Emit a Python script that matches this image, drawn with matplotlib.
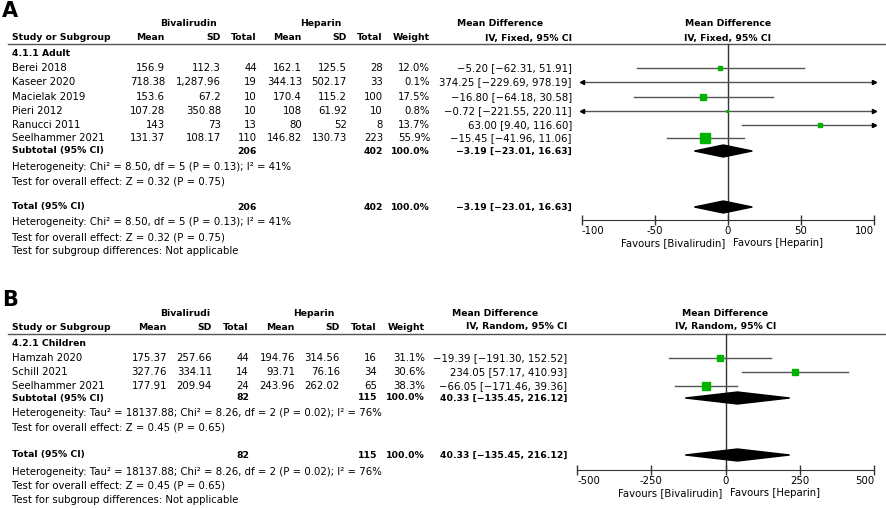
import matplotlib.pyplot as plt
from matplotlib.patches import Polygon

plt.rcParams['font.family'] = ['DejaVu Sans']
FS = 7.3
FS_B = 6.7

# ---- Panel A: adults, fixed effect ----
a_studies = ["Berei 2018", "Kaseer 2020", "Macielak 2019", "Pieri 2012",
             "Ranucci 2011", "Seelhammer 2021"]
a_biv_mean = [156.9, 718.38, 153.6, 107.28, 143, 131.37]
a_biv_sd = [112.3, 1287.96, 67.2, 350.88, 73, 108.17]
a_biv_n = [44, 19, 10, 10, 13, 110]
a_hep_mean = [162.1, 344.13, 170.4, 108, 80, 146.82]
a_hep_sd = [125.5, 502.17, 115.2, 61.92, 52, 130.73]
a_hep_n = [28, 33, 100, 10, 8, 223]
a_weight = [12.0, 0.1, 17.5, 0.8, 13.7, 55.9]
a_md = [-5.20, 374.25, -16.80, -0.72, 63.00, -15.45]
a_lo = [-62.31, -229.69, -64.18, -221.55, 9.40, -41.96]
a_hi = [51.91, 978.19, 30.58, 220.11, 116.60, 11.06]
a_total = [206, 402, -3.19, -23.01, 16.63]
a_ticks = [-100, -50, 0, 50, 100]
a_notes = ["Heterogeneity: Chi² = 8.50, df = 5 (P = 0.13); I² = 41%",
           "Test for overall effect: Z = 0.32 (P = 0.75)"]

# ---- Panel B: children, random effects ----
b_studies = ["Hamzah 2020", "Schill 2021", "Seelhammer 2021"]
b_biv_mean = [175.37, 327.76, 177.91]
b_biv_sd = [257.66, 334.11, 209.94]
b_biv_n = [44, 14, 24]
b_hep_mean = [194.76, 93.71, 243.96]
b_hep_sd = [314.56, 76.16, 262.02]
b_hep_n = [16, 34, 65]
b_weight = [31.1, 30.6, 38.3]
b_md = [-19.39, 234.05, -66.05]
b_lo = [-191.30, 57.17, -171.46]
b_hi = [152.52, 410.93, 39.36]
b_total = [82, 115, 40.33, -135.45, 216.12]
b_ticks = [-500, -250, 0, 250, 500]
b_notes = ["Heterogeneity: Tau² = 18137.88; Chi² = 8.26, df = 2 (P = 0.02); I² = 76%",
           "Test for overall effect: Z = 0.45 (P = 0.65)"]

GREEN = '#00b400'
LINE = '#555555'
DARK = '#333333'

fig = plt.figure(figsize=(8.86, 5.08), dpi=100)
bg = fig.add_axes([0, 0, 1, 1])
bg.set_xlim(0, 886)
bg.set_ylim(508, 0)
bg.axis('off')


def t(x, y, s, ha='left', bold=False, size=None):
    if size is None:
        size = FS_B if bold else FS
    bg.text(x, y, s, ha=ha, va='center', fontsize=size,
            fontweight='bold' if bold else 'normal')


def num(v):
    return f"{v:,}"


def ci(m, lo, hi):
    return f"{m:.2f} [{lo:.2f}, {hi:.2f}]".replace('-', '\u2212')


def panel(letter, top, cols, grp_name, biv_label, method, rows_y, sub_y,
          notes_y, tot_y, tot_notes_y, forest_box,
          studies, bm, bs, bn, hm, hs, hn, w, md, lo, hi, total, ticks, notes):
    c = cols
    t(2, top - 13, letter, bold=True, size=15)
    t((c[0] + c[1]) / 2 - 4, top, biv_label, ha='center', bold=True)
    t((c[3] + c[4]) / 2 - 4, top, "Heparin", ha='center', bold=True)
    t(c[7] - 115, top, "Mean Difference", bold=True)
    fx0, fy0, fx1, fy1 = forest_box
    xmin, xmax = ticks[0], ticks[-1]
    x_zero = fx0 + (fx1 - fx0) * (0 - xmin) / (xmax - xmin)
    t(x_zero, top, "Mean Difference", ha='center', bold=True)
    h2 = top + 14
    t(12, h2, "Study or Subgroup", bold=True)
    for x, s in zip(c[:7], ["Mean", "SD", "Total", "Mean", "SD", "Total", "Weight"]):
        t(x, h2, s, ha='right', bold=True)
    t(c[7], h2, f"IV, {method}, 95% CI", ha='right', bold=True)
    t(x_zero, h2, f"IV, {method}, 95% CI", ha='center', bold=True)
    bg.plot([8, 886], [fy0, fy0], color=LINE, lw=1.0)
    t(12, fy0 + 9, grp_name, bold=True)

    for i, y in enumerate(rows_y):
        t(12, y, studies[i])
        vals = [num(bm[i]), num(bs[i]), num(bn[i]), num(hm[i]), num(hs[i]),
                num(hn[i]), f"{w[i]:.1f}%"]
        for x, s in zip(c[:7], vals):
            t(x, y, s, ha='right')
        t(c[7], y, ci(md[i], lo[i], hi[i]), ha='right')

    for y, lab in [(sub_y, "Subtotal (95% CI)"), (tot_y, "Total (95% CI)")]:
        t(12, y, lab, bold=True)
        t(c[2], y, num(total[0]), ha='right', bold=True)
        t(c[5], y, num(total[1]), ha='right', bold=True)
        t(c[6], y, "100.0%", ha='right', bold=True)
        t(c[7], y, ci(total[2], total[3], total[4]), ha='right', bold=True)
    for y, s in zip(notes_y, notes):
        t(12, y, s)
    for y, s in zip(tot_notes_y, notes + ["Test for subgroup differences: Not applicable"]):
        t(12, y, s)

    # forest plot axes in mean-difference units
    ax = fig.add_axes([fx0 / 886, 1 - fy1 / 508, (fx1 - fx0) / 886, (fy1 - fy0) / 508])
    ax.patch.set_alpha(0)
    ax.set_xlim(xmin, xmax)
    ax.set_ylim(fy1, fy0)
    for s in ['top', 'left', 'right']:
        ax.spines[s].set_visible(False)
    ax.spines['bottom'].set_color(DARK)
    ax.set_yticks([])
    ax.set_xticks(ticks)
    labels = ax.set_xticklabels([str(v) for v in ticks], fontsize=FS)
    labels[0].set_ha('left')
    labels[-1].set_ha('right')
    ax.tick_params(axis='x', direction='inout', length=7, width=1, color=DARK, pad=1)
    ax.axvline(0, color=DARK, lw=1.0, clip_on=False)

    for i, y in enumerate(rows_y):
        a, b = max(lo[i], xmin), min(hi[i], xmax)
        ax.plot([a, b], [y, y], color=LINE, lw=1.0, clip_on=False, zorder=2)
        if lo[i] < xmin:
            ax.plot(xmin, y, marker='<', ms=3, color='black', clip_on=False)
        if hi[i] > xmax:
            ax.plot(xmax, y, marker='>', ms=3, color='black', clip_on=False)
        if xmin <= md[i] <= xmax:
            ax.plot(md[i], y, marker='s', ms=max(0.9 * w[i] ** 0.5, 1.2),
                    color=GREEN, mec=GREEN, zorder=3, clip_on=False)

    for y in (sub_y, tot_y):
        ax.add_patch(Polygon([(total[3], y), (total[2], y - 6), (total[4], y),
                              (total[2], y + 6)], closed=True,
                             facecolor='black', edgecolor='black', zorder=3,
                             clip_on=False))

    fav_y = fy1 + 23
    t(x_zero - 3, fav_y, "Favours [Bivalirudin]", ha='right')
    t(x_zero + 5, fav_y, "Favours [Heparin]")


panel("A", 24, [165, 221, 257, 302, 347, 383, 430, 572], "4.1.1 Adult",
      "Bivalirudin", "Fixed", [68, 82, 97, 111, 125, 138], 151, [167, 182],
      207, [222, 237, 251], (582, 44, 874, 220),
      a_studies, a_biv_mean, a_biv_sd, a_biv_n, a_hep_mean, a_hep_sd, a_hep_n,
      a_weight, a_md, a_lo, a_hi, a_total, a_ticks, a_notes)

panel("B", 313, [167, 212, 249, 295, 340, 377, 425, 567], "4.2.1 Children",
      "Bivalirudi", "Random", [358, 372, 386], 398, [413, 428],
      455, [472, 486, 500], (577, 334, 874, 470),
      b_studies, b_biv_mean, b_biv_sd, b_biv_n, b_hep_mean, b_hep_sd, b_hep_n,
      b_weight, b_md, b_lo, b_hi, b_total, b_ticks, b_notes)

fig.savefig("out.png", dpi=100)
